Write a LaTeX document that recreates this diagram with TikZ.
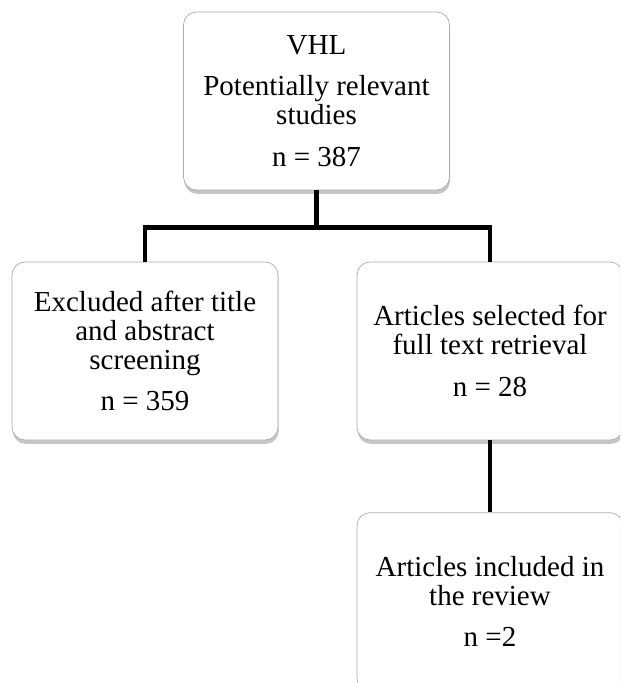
\documentclass[tikz,border=0pt]{standalone}
\usepackage{fontspec}
\setmainfont{Liberation Serif}
\usetikzlibrary{positioning, shadows}

\begin{document}
\begin{tikzpicture}
    \tikzstyle{box} = [draw=gray!65, fill=white, rounded corners=0.26cm, minimum width=5.32cm, minimum height=3.56cm, text centered, align=center, font=\fontsize{16.5}{16.5}\selectfont, drop shadow={shadow xshift=0.4pt, shadow yshift=-2.2pt, opacity=0.45}]
    \tikzstyle{link} = [line width=2.5pt]
    \clip (0,0) rectangle (12.4,-13.66);
    \node [box] at (6.33,-2.02) (vhl) {VHL\\[7pt]Potentially relevant\\studies\\[7pt]n = 387};
    \node [box] at (2.9,-7.02) (excluded) {Excluded after title\\and abstract\\screening\\[7pt]n = 359};
    \node [box] at (9.8,-7.02) (selected) {Articles selected for\\full text retrieval\\[7pt]n = 28};
    \node [box, below =1.44cm of selected] (included) {Articles included in\\the review\\[7pt]n =2};
    \draw[link] (vhl.south) -- ++(0,-0.74) coordinate (split);
    \draw[link] (excluded.north) |- (split) -| (selected.north);
    \draw[link] (selected.south) -- (included.north);
    %\draw[link] (excluded.south) -- (included.west);
\end{tikzpicture}
\end{document}
